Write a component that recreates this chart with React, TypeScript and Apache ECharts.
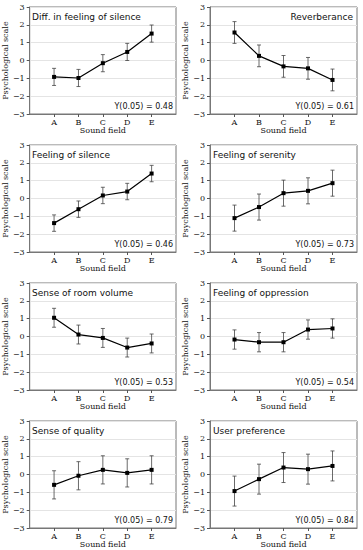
import React, { useEffect, useRef } from "react";
import * as echarts from "echarts";

const categories = ["A", "B", "C", "D", "E"];
const titles = [
  "Diff. in feeling of silence",
  "Reverberance",
  "Feeling of silence",
  "Feeling of serenity",
  "Sense of room volume",
  "Feeling of oppression",
  "Sense of quality",
  "User preference",
];
const diffSilence = [-0.92, -0.98, -0.15, 0.48, 1.51];
const reverberance = [1.57, 0.26, -0.33, -0.44, -1.09];
const silence = [-1.38, -0.6, 0.17, 0.39, 1.4];
const serenity = [-1.1, -0.48, 0.3, 0.43, 0.86];
const roomVolume = [1.05, 0.11, -0.08, -0.62, -0.39];
const oppression = [-0.17, -0.32, -0.32, 0.39, 0.45];
const quality = [-0.58, -0.07, 0.26, 0.09, 0.26];
const preference = [-0.93, -0.26, 0.39, 0.3, 0.48];
const yardsticks = [0.48, 0.61, 0.46, 0.73, 0.53, 0.54, 0.79, 0.84];
const yTicks = [-3, -2, -1, 0, 1, 2, 3];

const seriesValues = [diffSilence, reverberance, silence, serenity, roomVolume, oppression, quality, preference];
const titleRight = [false, true, false, false, false, false, false, false];

const colLeft = [29, 210];
const rowTop = [7, 145, 283, 421];
const gridW = 147;
const gridH = 107;

export default function App() {
  const ref = useRef<HTMLDivElement>(null);
  useEffect(() => {
    if (!ref.current) return;
    const chart = echarts.init(ref.current, null, { renderer: "svg" });
    const padded = ["", ...categories, ""];
    const grids: any[] = [];
    const xAxes: any[] = [];
    const yAxes: any[] = [];
    const series: any[] = [];
    const graphics: any[] = [];
    seriesValues.forEach((vals, i) => {
      const left = colLeft[i % 2];
      const top = rowTop[Math.floor(i / 2)];
      grids.push({
        left,
        top,
        width: gridW,
        height: gridH,
        show: true,
        borderColor: "#777",
        borderWidth: 1,
        backgroundColor: "#fff",
        containLabel: false,
      });
      xAxes.push({
        gridIndex: i,
        type: "category",
        data: padded,
        boundaryGap: false,
        name: "Sound field",
        nameLocation: "middle",
        nameGap: 12,
        nameTextStyle: { fontFamily: "DejaVu Serif", fontSize: 8, color: "#111" },
        axisLine: { show: true, onZero: false, lineStyle: { color: "#777", width: 1 } },
        axisTick: {
          show: true,
          length: 3,
          interval: (idx: number, v: string) => v !== "",
          lineStyle: { color: "#555" },
        },
        axisLabel: {
          interval: 0,
          margin: 4,
          fontFamily: "DejaVu Serif",
          fontSize: 8,
          color: "#111",
        },
        splitLine: { show: false },
      });
      yAxes.push({
        gridIndex: i,
        type: "value",
        min: yTicks[0],
        max: yTicks[yTicks.length - 1],
        interval: 1,
        name: "Psychological scale",
        nameLocation: "middle",
        nameGap: 19,
        nameTextStyle: { fontFamily: "DejaVu Serif", fontSize: 8, color: "#111" },
        axisLine: { show: true, lineStyle: { color: "#777", width: 1 } },
        axisTick: { show: true, length: 3, lineStyle: { color: "#555" } },
        axisLabel: {
          margin: 5,
          fontFamily: "DejaVu Serif",
          fontSize: 8,
          color: "#111",
          formatter: (v: number) => (v < 0 ? "\u2212" + Math.abs(v) : String(v)),
        },
        splitLine: { show: true, lineStyle: { color: "#e4e4e4", width: 1 } },
      });
      const e = yardsticks[i];
      series.push({
        type: "custom",
        xAxisIndex: i,
        yAxisIndex: i,
        encode: { x: 0, y: [1, 2] },
        data: categories.map((c, k) => [c, vals[k] - e, vals[k] + e]),
        renderItem: (params: any, api: any) => {
          const x = api.value(0);
          const lo = api.coord([x, api.value(1)]);
          const hi = api.coord([x, api.value(2)]);
          const st = { stroke: "#444", lineWidth: 0.8 };
          return {
            type: "group",
            children: [
              { type: "line", shape: { x1: lo[0], y1: lo[1], x2: hi[0], y2: hi[1] }, style: st },
              { type: "line", shape: { x1: lo[0] - 2, y1: lo[1], x2: lo[0] + 2, y2: lo[1] }, style: st },
              { type: "line", shape: { x1: hi[0] - 2, y1: hi[1], x2: hi[0] + 2, y2: hi[1] }, style: st },
            ],
          };
        },
        z: 2,
      });
      series.push({
        type: "line",
        xAxisIndex: i,
        yAxisIndex: i,
        data: categories.map((c, k) => [c, vals[k]]),
        symbol: "rect",
        symbolSize: 4,
        itemStyle: { color: "#000" },
        lineStyle: { color: "#000", width: 1.2 },
        z: 3,
      });
      graphics.push({
        type: "text",
        left: titleRight[i] ? undefined : left + 3,
        right: titleRight[i] ? 363 - (left + gridW) + 4 : undefined,
        top: top + 5,
        style: {
          text: titles[i],
          fontFamily: "DejaVu Sans",
          fontSize: 9,
          fill: "#111",
        },
        z: 10,
      });
      graphics.push({
        type: "text",
        right: 363 - (left + gridW) + 3,
        top: top + gridH - 12,
        style: {
          text: "Y(0.05) = " + e.toFixed(2),
          fontFamily: "DejaVu Sans",
          fontSize: 8,
          fill: "#111",
        },
        z: 10,
      });
    });
    chart.setOption({
      animation: false,
      backgroundColor: "#fff",
      grid: grids,
      xAxis: xAxes,
      yAxis: yAxes,
      series,
      graphic: graphics,
    });
    return () => chart.dispose();
  }, []);
  return <div ref={ref} style={{ width: 363, height: 550, position: "absolute", left: 0, top: 0 }} />;
}
